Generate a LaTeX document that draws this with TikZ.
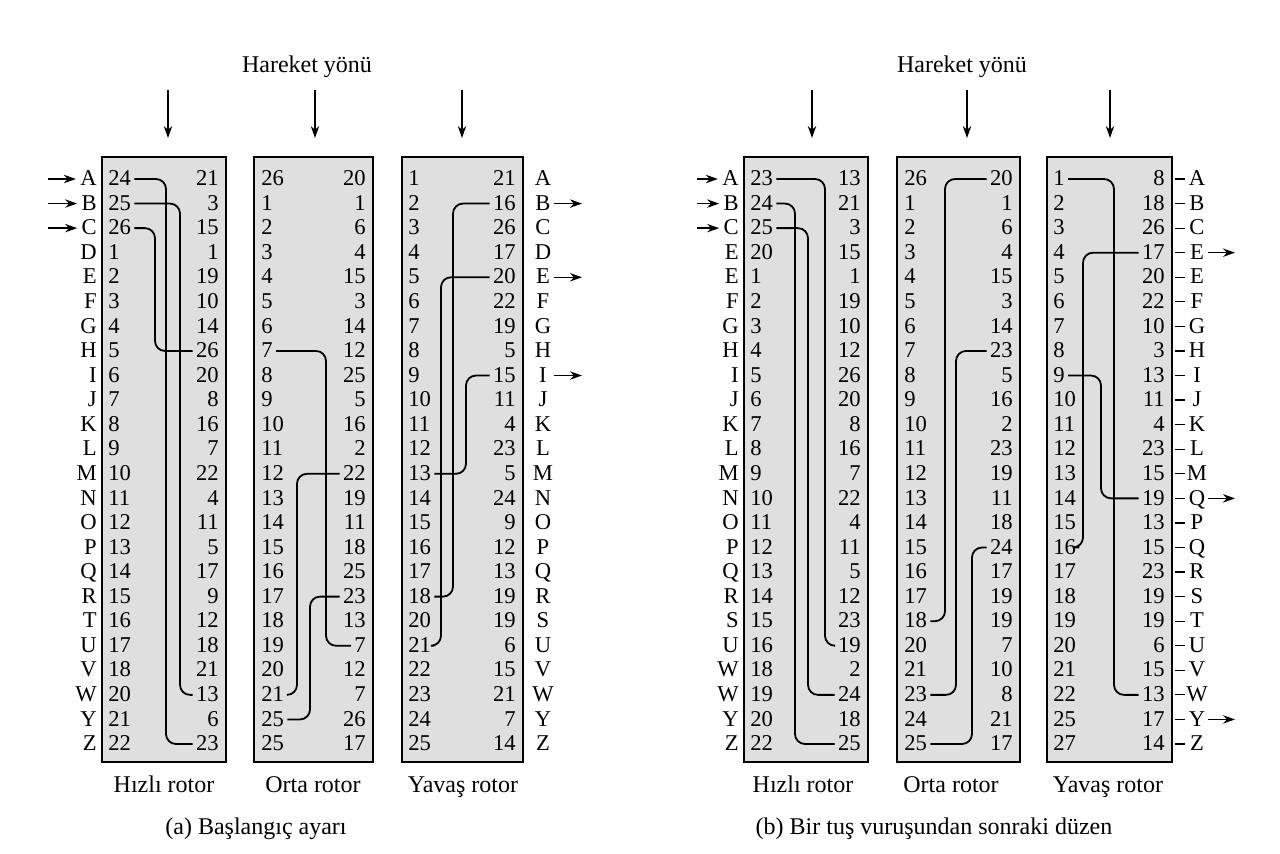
\documentclass[tikz,border=0pt]{standalone}
\usepackage{fontspec}
\setmainfont{Liberation Serif}
\usetikzlibrary{arrows.meta}

\begin{document}
\begin{tikzpicture}[x=0.5pt, y=-0.5pt,
		>={Stealth[length=6pt,width=4.2pt]},   %Pfeilspitzen
		rotorbox/.style={draw, line width=1.1pt, fill=gray!25},
		numl/.style={anchor=west, inner sep=1.5pt, text height=1.45ex, text depth=0pt, font={\fontsize{11.3}{13}\selectfont}},
		numr/.style={numl, anchor=east},
		letl/.style={numl, anchor=east, inner sep=1pt},
		letr/.style={numl, anchor=center, inner sep=1pt, minimum width=11pt},
		wire/.style={line width=0.9pt, rounded corners=5pt},
		arr/.style={->, line width=0.75pt},
		tick/.style={line width=0.6pt},
		lab/.style={text height=1.6ex, text depth=0.4ex, font={\fontsize{12}{14}\selectfont}}]
	%Bildbereich
	\useasboundingbox (0,0) rectangle (1280,853);
	% Rotoren zeichnen
	\draw[rotorbox] (102,157) rectangle (226,762);
	\draw[rotorbox] (254,157) rectangle (373,762);
	\draw[rotorbox] (402,157) rectangle (523,762);
	\draw[rotorbox] (744,157) rectangle (868,762);
	\draw[rotorbox] (897,157) rectangle (1020,762);
	\draw[rotorbox] (1047,157) rectangle (1172,762);
	% Ueberschriften und Richtungspfeile
	\node[lab] (aHead) at (307,67) {Hareket yönü};
	\node[lab] (bHead) at (962,67) {Hareket yönü};
	\foreach \x/\n in {168/a1,315/a2,462/a3,812/b1,967/b2,1110/b3} {
		\coordinate (\n s) at (\x,90);
		\coordinate (\n e) at (\x,138);
		\draw[arr] (\n s) -- (\n e);
	}
	% Panel (a): Zahlen
	\foreach \n [count=\i] in {24,25,26,1,2,3,4,5,6,7,8,9,10,11,12,13,14,15,16,17,18,20,21,22}
		\node[numl] (aHl\i) at (105,{179+(\i-1)*24.565}) {\n};
	\foreach \n [count=\i] in {21,3,15,1,19,10,14,26,20,8,16,7,22,4,11,5,17,9,12,18,21,13,6,23}
		\node[numr] (aHr\i) at (222,{179+(\i-1)*24.565}) {\n};
	\foreach \n [count=\i] in {26,1,2,3,4,5,6,7,8,9,10,11,12,13,14,15,16,17,18,19,20,21,25,25}
		\node[numl] (aOl\i) at (258,{179+(\i-1)*24.565}) {\n};
	\foreach \n [count=\i] in {20,1,6,4,15,3,14,12,25,5,16,2,22,19,11,18,25,23,13,7,12,7,26,17}
		\node[numr] (aOr\i) at (369,{179+(\i-1)*24.565}) {\n};
	\foreach \n [count=\i] in {1,2,3,4,5,6,7,8,9,10,11,12,13,14,15,16,17,18,20,21,22,23,24,25}
		\node[numl] (aYl\i) at (405,{179+(\i-1)*24.565}) {\n};
	\foreach \n [count=\i] in {21,16,26,17,20,22,19,5,15,11,4,23,5,24,9,12,13,19,19,6,15,21,7,14}
		\node[numr] (aYr\i) at (519,{179+(\i-1)*24.565}) {\n};
	% Panel (a): Buchstaben
	\foreach \c [count=\i] in {A,B,C,D,E,F,G,H,I,J,K,L,M,N,O,P,Q,R,T,U,V,W,Y,Z}
		\node[letl] (aL\i) at (99,{179+(\i-1)*24.565}) {\c};
	\foreach \c [count=\i] in {A,B,C,D,E,F,G,H,I,J,K,L,M,N,O,P,Q,R,S,U,V,W,Y,Z}
		\node[letr] (aR\i) at (543,{179+(\i-1)*24.565}) {\c};
	% Panel (b): Zahlen
	\foreach \n [count=\i] in {23,24,25,20,1,2,3,4,5,6,7,8,9,10,11,12,13,14,15,16,18,19,20,22}
		\node[numl] (bHl\i) at (747,{179+(\i-1)*24.565}) {\n};
	\foreach \n [count=\i] in {13,21,3,15,1,19,10,12,26,20,8,16,7,22,4,11,5,12,23,19,2,24,18,25}
		\node[numr] (bHr\i) at (864,{179+(\i-1)*24.565}) {\n};
	\foreach \n [count=\i] in {26,1,2,3,4,5,6,7,8,9,10,11,12,13,14,15,16,17,18,20,21,23,24,25}
		\node[numl] (bOl\i) at (901,{179+(\i-1)*24.565}) {\n};
	\foreach \n [count=\i] in {20,1,6,4,15,3,14,23,5,16,2,23,19,11,18,24,17,19,19,7,10,8,21,17}
		\node[numr] (bOr\i) at (1016,{179+(\i-1)*24.565}) {\n};
	\foreach \n [count=\i] in {1,2,3,4,5,6,7,8,9,10,11,12,13,14,15,16,17,18,19,20,21,22,25,27}
		\node[numl] (bYl\i) at (1050,{179+(\i-1)*24.565}) {\n};
	\foreach \n [count=\i] in {8,18,26,17,20,22,10,3,13,11,4,23,15,19,13,15,23,19,19,6,15,13,17,14}
		\node[numr] (bYr\i) at (1168,{179+(\i-1)*24.565}) {\n};
	% Panel (b): Buchstaben
	\foreach \c [count=\i] in {A,B,C,E,E,F,G,H,I,J,K,L,M,N,O,P,Q,R,S,U,W,W,Y,Z}
		\node[letl] (bL\i) at (741,{179+(\i-1)*24.565}) {\c};
	\foreach \c [count=\i] in {A,B,C,E,E,F,G,H,I,J,K,L,M,Q,P,Q,R,S,T,U,V,W,Y,Z} {
		\node[letr] (bR\i) at (1197,{179+(\i-1)*24.565}) {\c};
		\draw[tick] (1175,{179+(\i-1)*24.565}) -- (1185,{179+(\i-1)*24.565});
	}
	% Ein- und Ausgaenge
	\foreach \i in {1,2,3} {
		\coordinate (ain\i) at (48,{179+(\i-1)*24.565});
		\draw[arr, shorten >=1pt] (ain\i) -- (aL\i);
		\coordinate (bin\i) at (697,{179+(\i-1)*24.565});
		\draw[arr, shorten >=1pt] (bin\i) -- (bL\i);
	}
	\foreach \i in {2,5,9} {
		\coordinate (aout\i) at (582,{179+(\i-1)*24.565});
		\draw[arr] (aR\i) -- (aout\i);
	}
	\foreach \i in {4,14,23} {
		\coordinate (bout\i) at (1235,{179+(\i-1)*24.565});
		\draw[arr] (bR\i) -- (bout\i);
	}
	% Verdrahtung
	\foreach \p/\q/\x in {aHl1.east/aHr24.west/166, aHl2.east/aHr22.west/180, aHl3.east/aHr8.west/155,
			aOl8.east/aOr20.west/326, aOr13.west/aOl22.east/297, aOr18.west/aOl23.east/310,
			aYr2.west/aYl18.east/453, aYr5.west/aYl20.east/441, aYr9.west/aYl13.east/466,
			bHl1.east/bHr20.west/825, bHl2.east/bHr24.west/795, bHl3.east/bHr22.west/808,
			bOr1.west/bOl19.east/945, bOr8.west/bOl22.east/956, bOr16.west/bOl24.east/972,
			bYl1.east/bYr22.west/1114, bYr4.west/bYl16.east/1083, bYl9.east/bYr14.west/1101} {
		\coordinate (v) at (\x,0);
		\draw[wire] (\p) -| (v |- \q) -- (\q);
	}
	%Beschriftung
	\node[lab] (aHlab) at (164,787) {Hızlı rotor};
	\node[lab] (aOlab) at (313,787) {Orta rotor};
	\node[lab] (aYlab) at (463,787) {Yavaş rotor};
	\node[lab] (bHlab) at (803,787) {Hızlı rotor};
	\node[lab] (bOlab) at (951,787) {Orta rotor};
	\node[lab] (bYlab) at (1108,787) {Yavaş rotor};
	\node[lab] (aCap) at (256,829) {(a) Başlangıç ayarı};
	\node[lab] (bCap) at (934,829) {(b) Bir tuş vuruşundan sonraki düzen};
\end{tikzpicture}
\end{document}
